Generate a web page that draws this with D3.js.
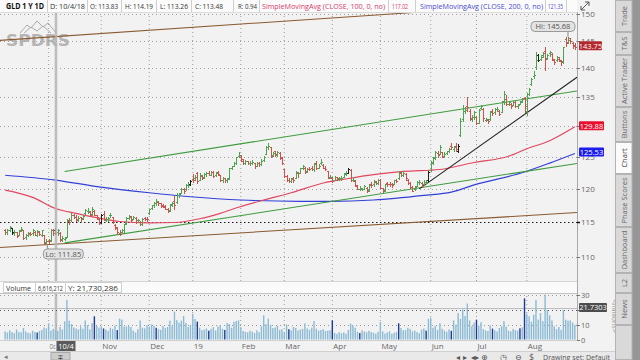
<!DOCTYPE html>
<html><head><meta charset="utf-8">
<script src="https://cdn.jsdelivr.net/npm/d3@7/dist/d3.min.js"></script>
<style>
html,body{margin:0;padding:0;background:#f2f2f2;overflow:hidden}
svg{display:block;font-family:"Open Sans","DejaVu Sans",sans-serif}
</style></head><body>
<svg id="c" width="640" height="360"></svg>
<script>
// ---------- DATA ----------
const symbolTitle = "GLD 1 Y 1D";
const firstDay = "2018-09-04", lastDay = "2019-08-30";
const holidays = ["2018-11-22","2018-12-05","2018-12-25","2019-01-01","2019-01-21","2019-02-18","2019-04-19","2019-05-27","2019-07-04"];

const open = [
113.9,113.5,113.9,114.1,113.4,113.5,113.2,113.9,113.8,112.8,113.2,113.4,113.4,113.6,113.1,113.6,113.2,113.1,112.1,
112.3,112.4,113.8,113.83,113.6,113.4,112.5,112.6,112.9,115.1,115.3,116.0,115.8,115.5,115.7,115.6,116.4,116.6,116.5,116.2,116.7,116.0,115.4,
115.0,116.2,115.3,115.4,116.0,115.7,114.6,114.2,113.4,113.5,113.8,114.9,115.6,115.8,115.5,115.6,115.3,115.0,114.8,115.6,115.5,
116.3,117.1,117.6,117.8,118.0,117.8,117.6,117.3,117.0,116.8,117.7,118.2,118.0,119.0,119.4,120.0,119.9,120.6,120.7,
121.5,121.6,122.4,121.4,122.0,121.9,122.3,122.4,122.2,122.6,122.1,122.6,122.1,121.3,121.6,121.4,121.6,123.2,123.6,124.0,125.2,
125.0,124.4,124.1,124.3,124.0,124.1,124.0,123.6,124.1,123.8,124.5,125.5,126.6,126.5,125.3,125.9,125.3,125.6,124.8,
123.0,122.0,121.3,121.2,121.6,121.7,122.5,122.5,123.2,123.3,122.8,123.1,123.2,123.0,124.0,123.3,124.0,123.7,123.3,122.8,121.8,
121.7,121.4,121.8,121.5,121.7,121.9,122.4,122.5,122.9,121.4,121.2,120.5,120.0,120.0,120.0,120.2,119.8,120.7,120.7,121.1,120.9,
121.4,120.1,119.8,120.9,120.8,120.8,120.8,121.3,121.6,122.5,122.2,122.3,121.4,120.9,120.3,119.9,120.5,121.0,120.9,120.7,121.0,121.3,
122.9,124.1,125.0,125.6,125.5,125.7,125.2,125.6,126.0,126.7,126.3,126.8,126.0,128.5,131.2,132.5,133.4,132.6,131.2,131.6,
131.5,130.6,133.0,132.9,131.0,131.0,131.2,132.6,132.3,132.9,132.6,132.4,134.2,134.5,133.8,133.8,133.6,134.1,133.3,133.8,134.2,134.8,
132.5,135.5,137.1,138.5,140.2,142.4,141.6,142.3,143.1,141.8,142.7,142.6,141.4,141.5,141.7,141.3,141.2,145.2,144.8,145.1,144.6,144.2];
const high = [
114.0,114.0,114.5,114.2,113.8,113.6,113.9,114.3,113.9,113.3,113.5,113.6,114.0,113.7,113.8,113.7,113.9,113.2,112.5,
112.6,114.0,114.0,114.19,114.0,113.5,113.0,112.9,115.4,115.6,116.3,116.2,116.0,115.9,115.8,116.0,117.0,117.1,116.6,117.2,116.8,116.1,115.6,
116.2,116.6,115.7,115.8,116.4,115.8,114.7,114.3,113.8,114.0,114.8,115.7,116.0,115.9,115.9,115.7,115.5,115.1,115.6,115.8,115.7,
117.0,117.6,118.0,118.4,118.1,117.9,117.7,117.5,117.1,117.7,118.0,118.9,119.3,119.4,120.1,120.2,120.7,121.0,121.4,
122.3,122.2,122.6,122.4,122.1,122.4,122.6,122.7,122.8,122.7,122.6,122.7,122.2,121.8,121.7,121.6,123.3,123.6,124.2,125.0,125.8,
125.3,124.6,124.5,124.4,124.3,124.5,124.1,124.2,124.2,124.6,125.2,126.7,127.2,126.6,125.8,126.0,125.9,125.7,124.9,
123.1,122.2,121.6,121.7,121.8,122.8,122.6,123.3,123.7,123.4,123.2,123.4,123.5,124.0,124.3,123.8,124.6,123.8,123.6,122.8,122.2,
121.8,122.0,121.9,121.9,122.0,122.5,122.7,123.3,123.0,121.8,121.3,120.6,120.4,120.2,120.6,120.3,120.7,121.0,121.4,121.2,121.5,
121.5,120.2,120.8,121.1,121.0,120.9,121.4,121.5,122.8,122.6,122.7,122.4,121.5,121.0,120.4,120.4,121.2,121.3,121.0,121.3,121.4,122.7,
124.3,125.0,125.9,126.0,126.9,125.8,125.7,126.0,126.4,127.3,126.7,127.2,127.0,131.3,133.6,133.2,135.0,132.8,131.9,132.5,
131.7,132.8,133.6,133.0,131.4,131.2,132.5,132.9,133.0,133.2,132.7,134.3,135.9,135.3,134.3,133.9,134.3,134.3,133.8,134.3,134.8,135.0,
135.6,136.5,138.3,139.5,142.9,142.6,142.3,142.9,143.8,142.6,143.0,142.7,141.6,142.1,141.9,141.4,143.9,145.6,145.68,145.4,144.8,144.5];
const low = [
113.3,113.3,113.7,113.3,113.2,112.8,113.1,113.7,112.6,112.6,113.0,113.1,113.2,113.1,113.0,113.1,113.0,111.9,111.85,
112.0,112.3,113.2,113.26,113.2,112.3,112.3,112.4,112.8,114.8,115.2,115.6,115.1,115.2,115.2,115.4,116.2,116.4,115.9,116.1,116.0,115.5,114.8,
114.9,115.3,115.1,115.2,115.7,114.9,114.0,113.4,113.1,113.4,113.6,114.8,115.4,115.1,115.4,114.9,115.0,114.6,114.6,115.3,115.2,
116.2,116.9,117.3,117.6,117.6,117.2,117.2,116.9,116.5,116.7,117.4,117.0,117.9,118.8,119.3,119.4,119.8,120.3,120.6,
121.0,121.4,120.9,121.3,121.5,121.7,122.0,122.1,122.1,121.9,122.0,122.1,121.2,121.1,121.1,121.0,121.5,123.0,123.5,123.8,125.0,
124.3,123.9,123.9,123.8,123.7,123.9,123.3,123.5,123.6,123.7,124.4,125.4,126.3,125.0,125.2,125.2,125.1,124.7,123.9,
121.9,121.2,121.0,121.1,121.1,121.6,121.9,122.4,123.1,122.5,122.6,122.9,122.9,122.8,123.1,123.2,123.9,123.2,122.9,121.6,121.6,
121.1,121.3,121.4,121.3,121.4,121.8,122.2,122.4,121.2,121.2,120.5,119.9,119.8,119.8,119.9,119.5,119.7,120.3,120.5,120.7,120.8,
120.1,119.5,119.6,120.5,120.5,120.3,120.7,121.0,121.5,122.0,122.0,121.4,120.7,120.2,119.6,119.8,120.4,120.8,120.3,120.6,120.9,121.2,
122.8,123.9,124.6,125.0,125.4,124.9,125.0,125.4,125.8,126.3,126.0,125.9,125.8,128.4,130.9,132.2,132.6,131.0,130.9,131.2,
130.4,130.5,132.8,130.9,130.8,130.6,131.0,131.9,132.1,132.6,131.8,132.3,133.8,133.6,133.6,133.0,133.5,133.2,133.1,133.7,134.0,132.4,
131.8,135.3,137.0,138.2,139.8,141.2,141.5,142.0,139.6,141.6,142.2,141.4,140.7,141.3,141.2,140.5,140.9,144.0,144.6,144.6,143.6,143.4];
const close = [
113.6,113.9,114.3,113.5,113.6,113.0,113.7,114.0,112.7,113.1,113.3,113.3,113.8,113.2,113.7,113.3,113.8,112.0,112.3,
112.2,113.8,113.4,113.48,113.8,112.4,112.7,112.7,115.3,115.0,116.1,115.8,115.3,115.6,115.4,115.9,116.8,116.7,116.0,117.0,116.1,115.8,114.9,
116.0,115.4,115.5,115.6,116.0,115.0,114.3,113.5,113.3,113.8,114.7,115.6,115.9,115.3,115.8,115.0,115.3,114.8,115.5,115.5,115.4,
116.9,117.5,117.8,118.2,117.8,117.4,117.4,117.0,116.6,117.6,117.9,117.6,119.1,119.2,120.0,119.6,120.6,120.6,121.25,
121.3,121.9,121.2,122.2,121.7,122.3,122.4,122.2,122.6,122.0,122.5,122.3,121.3,121.6,121.3,121.5,123.2,123.5,124.0,124.9,125.3,
124.6,124.0,124.3,124.0,124.0,124.2,123.5,124.0,123.8,124.4,125.0,126.5,126.7,125.2,125.6,125.4,125.8,124.9,124.1,
122.0,121.3,121.2,121.5,121.3,122.6,122.4,123.2,123.5,122.6,123.1,123.0,123.0,123.9,123.2,123.6,124.2,123.3,123.1,121.7,121.9,
121.2,121.9,121.6,121.7,121.7,122.3,122.5,123.0,121.3,121.4,120.6,120.0,120.1,120.0,120.4,119.6,120.6,120.6,121.2,120.9,121.3,
120.2,119.7,120.7,120.8,120.7,120.6,121.3,121.2,122.6,122.2,122.5,121.6,120.9,120.3,119.7,120.3,121.0,121.0,120.5,121.1,121.1,122.6,
124.2,124.8,125.7,125.3,126.6,125.0,125.4,125.9,126.3,126.5,126.6,126.3,126.8,130.9,132.6,132.7,133.2,131.3,131.6,132.3,
130.6,132.7,133.3,131.3,131.2,130.9,132.4,132.2,132.8,132.9,132.1,134.2,135.5,133.8,134.0,133.3,134.0,133.4,133.6,134.1,134.7,133.3,
135.4,136.3,138.1,138.8,141.5,141.4,142.0,142.8,141.6,142.3,142.9,141.7,141.1,141.9,141.5,141.0,143.8,144.6,145.5,144.9,144.0,143.75];
// volume in millions
const volume = [
5.5,4.8,6.2,5.0,4.3,6.8,5.2,4.9,7.8,5.5,4.6,4.2,6.0,5.1,4.7,5.8,6.5,8.2,7.6,
11.0,6.0,7.2,6.6,5.8,8.5,6.9,12.4,27.0,12.8,10.5,8.2,7.5,6.8,8.9,7.3,13.0,9.8,6.9,11.2,15.8,9.2,8.0,
9.0,7.5,6.8,5.9,8.0,7.2,9.5,6.4,14.2,13.6,8.8,8.9,9.1,8.5,6.0,4.8,7.0,13.0,8.0,7.6,9.8,
8.7,10.2,9.4,8.0,7.1,6.5,9.2,7.8,8.5,12.8,9.5,19.0,13.2,11.5,12.8,16.0,11.2,8.5,10.0,
17.5,14.0,12.2,8.0,6.3,6.8,7.5,6.0,7.2,8.4,6.1,8.8,9.8,7.3,6.5,11.2,10.5,8.0,12.0,12.6,13.0,
8.4,5.8,5.2,4.9,6.0,5.3,4.5,6.2,5.0,9.0,16.5,10.5,14.2,10.0,7.8,8.2,9.3,6.5,7.0,
4.8,10.2,7.0,6.3,8.5,7.9,6.0,6.8,7.2,11.0,7.5,6.6,8.1,12.5,7.4,6.1,6.5,7.0,5.8,6.0,6.4,
13.0,4.5,3.8,5.0,4.2,4.8,3.9,6.5,10.8,9.6,8.0,5.2,4.4,6.2,5.5,4.9,6.0,5.1,4.6,3.9,5.3,
12.0,5.5,4.0,4.8,5.6,3.9,4.5,5.2,11.0,7.8,6.3,6.5,8.0,7.2,5.6,6.1,5.0,4.3,6.8,7.5,6.0,14.0,
14.8,8.0,9.2,6.5,11.0,7.3,6.0,5.2,6.8,5.9,13.0,10.0,18.0,14.0,20.5,16.0,24.5,13.0,9.0,11.5,
13.5,9.5,11.8,7.0,6.2,5.8,9.6,7.4,6.3,5.5,7.8,9.0,12.5,8.8,6.0,5.5,7.2,6.4,5.9,7.6,8.3,28.0,
17.5,15.8,12.0,16.8,27.0,13.5,18.0,12.5,30.5,20.0,16.5,13.0,9.0,7.0,8.5,6.6,20.0,13.5,12.8,13.0,11.5,10.0];
const volumeDarkDays = [14,39,43,49,66,84,89,96,124,143,155,172,184,195,206,213,225,227];
const priceDarkDays = [3,22,42,81,150,185,198,233];

// moving averages: [bar index, value]
const sma100 = [[0,119.8],[12,118.7],[22,117.02],[31,116.3],[41,115.6],[50,115.1],[63,114.9],[74,114.95],[85,115.5],[94,116.3],[102,117.2],[113,118.3],[125,119.4],[139,120.9],[150,121.6],[161,122.2],[174,122.7],[190,123.0],[205,124.1],[220,125.1],[228,126.3],[238,127.6],[249,129.88]];
const sma200 = [[0,122.1],[22,121.35],[41,120.3],[63,119.4],[81,118.8],[103,118.3],[129,118.1],[142,118.1],[161,118.3],[183,119.0],[195,119.5],[205,120.6],[227,122.6],[238,124.0],[249,125.53]];

// drawn trend lines: [bar index, price] anchors
const trendBrownTop = [[0,145.1],[249,152.4]];
const trendBrownBottom = [[0,111.4],[249,116.4]];
const trendGreenUpper = [[26,122.7],[249,135.9]];
const trendGreenLower = [[26,112.0],[249,123.9]];
const trendBlack = [[181,120.0],[249,138.1]];

const priceTicks = [110,115,120,125,130,135,140,145,150];
const priceTickLabels = [110,115,120,125,135,140,145,150]; // 130 hidden behind the SMA label
const volumeTicks = [0,10,20,30];
const volumeTickLabels = [0,10,30]; // 20 hidden behind the cursor label
const monthLabels = ["Oct","Nov","Dec","19","Feb","Mar","Apr","May","Jun","Jul","Aug"];
const cursorIndex = 22; // 10/4/18
const cursorLabel = "10/4";
const cursorVolumeY = 21.7303;
const headerTexts = ["GLD 1 Y 1D","D: 10/4/18","O: 113.83","H: 114.19","L: 113.26","C: 113.48","R: 0.94",
  "SimpleMovingAvg (CLOSE, 100, 0, no)","117.02","SimpleMovingAvg (CLOSE, 200, 0, no)","121.35"];
const volumeHeaderTexts = ["Volume","6,616,212","Y: 21,730,286"];
const tabNames = ["Trade","T&S","Active Trader","Buttons","Chart","Phase Scores","Dashboard","L2","News"];
const footerText = "Drawing set: Default";

// ---------- LAYOUT ----------
const svg = d3.select("#c");
const W = 640, H = 360, plotR = 577;
const fmt = d3.utcFormat("%Y-%m-%d");
const dates = d3.utcDay.range(new Date(firstDay+"T00:00Z"), d3.utcDay.offset(new Date(lastDay+"T00:00Z"),1))
  .filter(d => d.getUTCDay()!==0 && d.getUTCDay()!==6 && !holidays.includes(fmt(d)));
if (dates.length !== close.length) console.error("length mismatch", dates.length, close.length);

const x = d3.scaleBand().domain(d3.range(close.length)).range([4,576]);
const cx = i => x(i) + x.bandwidth()/2;
const y = d3.scaleLog().domain([110,150]).range([257,14]);
const vy = d3.scaleLinear().domain([0,33]).range([339.5,291]);

svg.append("rect").attr("width",W).attr("height",H).attr("fill","#f2f2f2");
const defs = svg.append("defs");
defs.append("clipPath").attr("id","pc").append("rect").attr("x",0).attr("y",0).attr("width",plotR).attr("height",281);
defs.append("clipPath").attr("id","vc").append("rect").attr("x",0).attr("y",293).attr("width",plotR).attr("height",47);

const monthStarts = [];
dates.forEach((d,i)=>{ if(i>0 && d.getUTCMonth()!==dates[i-1].getUTCMonth()) monthStarts.push(i); });

// vertical grid
const grid = svg.append("g");
monthStarts.forEach(i=>{
  grid.append("line").attr("x1",cx(i)).attr("x2",cx(i)).attr("y1",12).attr("y2",340)
    .attr("stroke","#9c9c9c").attr("stroke-dasharray","1,3");
});
// horizontal price grid
priceTicks.forEach(t=>{
  grid.append("line").attr("x1",0).attr("x2",plotR).attr("y1",Math.round(y(t))+0.5).attr("y2",Math.round(y(t))+0.5)
    .attr("stroke", t===115 ? "#1a1a1a" : "#a0a0a0").attr("stroke-width", t===115?1.2:1)
    .attr("stroke-dasharray", t===115 ? "1.5,2.5" : "1,3");
});

// SPDRS logo
const logo = svg.append("g").attr("opacity",0.8);
logo.append("path").attr("d","M20,33 L27,25 L31,28 L37,21 L43,27 L48,23 L56,33 M24,33 L31,27 L37,31 L43,26 L51,33")
  .attr("fill","none").attr("stroke","#9a9a9a").attr("stroke-width",1);
logo.append("text").attr("x",6).attr("y",46).attr("font-size",16).attr("font-weight",900)
  .attr("font-family","DejaVu Sans").attr("fill","#a6a6a6").attr("textLength",64).attr("lengthAdjust","spacingAndGlyphs")
  .text("SPDRS");

const pg = svg.append("g").attr("clip-path","url(#pc)");

// moving averages
const maLine = d3.line().x(d=>cx(d[0])).y(d=>y(d[1])).curve(d3.curveMonotoneX);
pg.append("path").attr("d",maLine(sma200)).attr("fill","none").attr("stroke","#3340d8").attr("stroke-width",1.15);
pg.append("path").attr("d",maLine(sma100)).attr("fill","none").attr("stroke","#e2485f").attr("stroke-width",1.15);

// trend lines
function trend(a, color, extendLeft){
  const x1 = cx(a[0][0]), y1 = y(a[0][1]), x2 = cx(a[1][0]), y2 = y(a[1][1]);
  const k = (y2-y1)/(x2-x1);
  const xs = extendLeft ? 0 : x1, xe = plotR;
  pg.append("line").attr("x1",xs).attr("y1",y1+(xs-x1)*k).attr("x2",xe).attr("y2",y1+(xe-x1)*k)
    .attr("stroke",color).attr("stroke-width",1.05);
}
trend(trendBrownTop,"#8a5a30",true);
trend(trendBrownBottom,"#8a5a30",true);
trend(trendGreenUpper,"#3d9b3d",false);
trend(trendGreenLower,"#3d9b3d",false);
trend(trendBlack,"#202020",false);

// OHLC bars
const bars = pg.append("g").attr("stroke-width",1).attr("shape-rendering","crispEdges");
close.forEach((c,i)=>{
  const col = priceDarkDays.includes(i) ? "#1e1e1e" : (c >= open[i] ? "#4fa24f" : "#d0504c");
  const xc = Math.round(cx(i))+0.5;
  bars.append("line").attr("x1",xc).attr("x2",xc).attr("y1",y(high[i])).attr("y2",y(low[i])+1).attr("stroke",col);
  bars.append("line").attr("x1",xc-1.5).attr("x2",xc).attr("y1",Math.round(y(open[i]))+0.5).attr("y2",Math.round(y(open[i]))+0.5).attr("stroke",col);
  bars.append("line").attr("x1",xc).attr("x2",xc+1.5).attr("y1",Math.round(y(c))+0.5).attr("y2",Math.round(y(c))+0.5).attr("stroke",col);
});

// cursor vertical line
svg.append("line").attr("x1",cx(cursorIndex)+0.5).attr("x2",cx(cursorIndex)+0.5).attr("y1",12).attr("y2",340)
  .attr("stroke","#b4b4b4").attr("stroke-width",2.5).attr("opacity",0.85);

// Hi / Lo bubbles
const hiIdx = d3.maxIndex(high), loIdx = d3.minIndex(low);
function bubble(x0, y0, w, h, txt, px, py){
  svg.append("line").attr("x1",px).attr("x2",px).attr("y1",py).attr("y2", y0 > py ? y0 : y0+h).attr("stroke","#888");
  svg.append("rect").attr("x",x0).attr("y",y0).attr("width",w).attr("height",h).attr("rx",4)
    .attr("fill","#e3e3e3").attr("stroke","#9a9a9a");
  svg.append("text").attr("x",x0+w/2).attr("y",y0+h/2+2.7).attr("text-anchor","middle")
    .attr("font-size",7.5).attr("fill","#555").text(txt);
}
bubble(cx(hiIdx)-37, 21.5, 44, 10, "Hi: " + d3.format(".2f")(high[hiIdx]), cx(hiIdx), y(high[hiIdx]));
bubble(cx(loIdx)-3, 249, 40, 10, "Lo: " + d3.format(".2f")(low[loIdx]), cx(loIdx)+1, y(low[loIdx]));

// header band
svg.append("rect").attr("x",0).attr("y",0).attr("width",plotR).attr("height",12).attr("fill","#fbfbfb");
svg.append("line").attr("x1",0).attr("x2",plotR).attr("y1",12.5).attr("y2",12.5).attr("stroke","#dcdcdc");
const hdrPos = [[6,38],[50,35],[90,28],[125,28],[160,28],[195,28],[238,19],[262,123],[392,16],[420,123],[548,15]];
const hdrSeps = [47,87,121,156,191,233,259,388,415,545,566];
const hdrColors = ["#111","#333","#333","#333","#333","#333","#333","#d63a6a","#d63a6a","#4a4ad0","#4a4ad0"];
headerTexts.forEach((t,k)=>{
  svg.append("text").attr("x",hdrPos[k][0]).attr("y",9).attr("font-size",8)
    .attr("font-weight", k===0 ? 700 : 400).attr("fill",hdrColors[k])
    .attr("textLength",hdrPos[k][1]).attr("lengthAdjust","spacingAndGlyphs").text(t);
});
hdrSeps.forEach(s=>svg.append("line").attr("x1",s+0.5).attr("x2",s+0.5).attr("y1",0).attr("y2",12).attr("stroke","#cfcfcf"));
// expand icon
svg.append("path").attr("d","M581,10 L589,2 M585,2 L589,2 L589,6 M581,6 L581,10 L585,10").attr("fill","none").attr("stroke","#555").attr("stroke-width",1);

// right price axis
svg.append("line").attr("x1",plotR+0.5).attr("x2",plotR+0.5).attr("y1",12).attr("y2",340).attr("stroke","#a8a8a8");
priceTicks.forEach(t=>{
  svg.append("line").attr("x1",plotR).attr("x2",plotR+3).attr("y1",Math.round(y(t))+0.5).attr("y2",Math.round(y(t))+0.5)
    .attr("stroke", t===115?"#111":"#777").attr("stroke-width", t===115?1.5:1);
});
priceTickLabels.forEach(t=>{
  svg.append("text").attr("x",581).attr("y",y(t)+3).attr("font-size",8).attr("fill","#666").text(t);
});
function valueBox(yc, color, w, txt){
  svg.append("rect").attr("x",579).attr("y",yc-4.5).attr("width",w).attr("height",9).attr("rx",1).attr("fill",color);
  svg.append("text").attr("x",579+w/2).attr("y",yc+2.8).attr("text-anchor","middle").attr("font-size",7.5)
    .attr("fill","#fff").text(txt);
}
const lastClose = close[close.length-1], last100 = sma100[sma100.length-1][1], last200 = sma200[sma200.length-1][1];
valueBox(y(lastClose)-1.5, "#b22a2e", 23, d3.format(".2f")(lastClose));
valueBox(y(last100)-1, "#e8102e", 25, d3.format(".2f")(last100));
valueBox(y(last200)-1.5, "#1c1cf0", 25, d3.format(".2f")(last200));

// volume header band
svg.append("rect").attr("x",0).attr("y",281).attr("width",plotR).attr("height",12).attr("fill","#fafafa");
svg.append("line").attr("x1",0).attr("x2",plotR).attr("y1",281.5).attr("y2",281.5).attr("stroke","#d4d4d4");
svg.append("line").attr("x1",0).attr("x2",plotR).attr("y1",293.5).attr("y2",293.5).attr("stroke","#c4c4c4");
svg.append("rect").attr("x",3.5).attr("y",282.5).attr("width",118).attr("height",10).attr("fill","#fff").attr("stroke","#cfcfcf");
const vhPos = [[6,25],[38,25],[68,50]];
volumeHeaderTexts.forEach((t,k)=>{
  svg.append("text").attr("x",vhPos[k][0]).attr("y",290.5).attr("font-size",7.5).attr("fill","#333")
    .attr("textLength",vhPos[k][1]).attr("lengthAdjust","spacingAndGlyphs").text(t);
});
[35,65].forEach(s=>svg.append("line").attr("x1",s+0.5).attr("x2",s+0.5).attr("y1",282.5).attr("y2",292.5).attr("stroke","#cfcfcf"));

// volume grid + bars
const vg = svg.append("g").attr("clip-path","url(#vc)");
[10,20,30].forEach(t=>{
  vg.append("line").attr("x1",0).attr("x2",plotR).attr("y1",Math.round(vy(t))+0.5).attr("y2",Math.round(vy(t))+0.5)
    .attr("stroke", t===20?"#555":"#999").attr("stroke-dasharray","1,3");
});
vg.append("line").attr("x1",0).attr("x2",plotR).attr("y1",Math.round(vy(cursorVolumeY))+0.5).attr("y2",Math.round(vy(cursorVolumeY))+0.5)
  .attr("stroke","#bdbdbd");
vg.selectAll("rect.v").data(volume).join("rect").attr("class","v")
  .attr("x",(d,i)=>cx(i)-0.7).attr("width",1.4)
  .attr("y",d=>vy(d)).attr("height",d=>vy(0)-vy(d))
  .attr("fill",(d,i)=>volumeDarkDays.includes(i) ? "#1d3b98" : "#8bbad4");
volumeTicks.forEach(t=>{
  svg.append("line").attr("x1",plotR).attr("x2",plotR+3).attr("y1",Math.round(vy(t))+0.5).attr("y2",Math.round(vy(t))+0.5).attr("stroke","#777");
});
volumeTickLabels.forEach(t=>{
  svg.append("text").attr("x",581).attr("y",vy(t)+3).attr("font-size",7.5).attr("fill","#666").text(t);
});
valueBox(vy(cursorVolumeY), "#4d4d4d", 28, d3.format(".4f")(cursorVolumeY));
svg.append("text").attr("transform","translate(612,316) rotate(90)").attr("text-anchor","middle")
  .attr("font-size",7).attr("fill","#999").text("<millions>");

// x axis
svg.append("line").attr("x1",0).attr("x2",plotR).attr("y1",340.5).attr("y2",340.5).attr("stroke","#cfcfcf");
monthStarts.forEach((i,k)=>{
  if (k === 0) return; // "Oct" drawn below, partly under the cursor label
  svg.append("text").attr("x",cx(i)+1).attr("y",348.5).attr("font-size",8).attr("fill","#666").text(monthLabels[k]);
});
svg.append("text").attr("x",cx(monthStarts[0])+1).attr("y",348.5).attr("font-size",8).attr("fill","#666")
  .attr("textLength",6).attr("lengthAdjust","spacingAndGlyphs").text(monthLabels[0].slice(0,2));
svg.append("rect").attr("x",cx(cursorIndex)+1).attr("y",341).attr("width",19).attr("height",10).attr("fill","#5a5a5a");
svg.append("text").attr("x",cx(cursorIndex)+10.5).attr("y",348.5).attr("text-anchor","middle").attr("font-size",7.5)
  .attr("fill","#fff").text(cursorLabel);

// bottom scroll strip
svg.append("rect").attr("x",0).attr("y",351).attr("width",615).attr("height",9).attr("fill","#e9e9e9");
svg.append("line").attr("x1",0).attr("x2",615).attr("y1",351.5).attr("y2",351.5).attr("stroke","#d0d0d0");
svg.append("text").attr("x",4).attr("y",359).attr("font-size",7).attr("font-family","DejaVu Sans").attr("fill","#777").text("◂");
svg.append("rect").attr("x",51).attr("y",352.5).attr("width",19).attr("height",7.5).attr("fill","#cdcdcd").attr("stroke","#a8a8a8");
svg.append("text").attr("x",60.5).attr("y",359.5).attr("text-anchor","middle").attr("font-size",7).attr("font-family","DejaVu Sans").attr("fill","#444").text("∓");
[["◂",456],["▸",463],["◂▸",471],["⊕",481],["◷",500],["⊖",515],["$",529]].forEach(p=>{
  svg.append("text").attr("x",p[1]).attr("y",359.5).attr("font-size",8).attr("font-family","DejaVu Sans").attr("fill","#555").text(p[0]);
});
svg.append("text").attr("x",543).attr("y",359.5).attr("font-size",7.5).attr("fill","#555")
  .attr("textLength",67).attr("lengthAdjust","spacingAndGlyphs").text(footerText);

// right side tab strip
svg.append("rect").attr("x",632).attr("y",0).attr("width",8).attr("height",H).attr("fill","#969696");
const tabEdges = [0,32,55,107,142,174,227,273,293,325];
tabNames.forEach((n,k)=>{
  const y0 = tabEdges[k], y1 = tabEdges[k+1];
  const active = n==="Chart";
  svg.append("rect").attr("x",615.5).attr("y",y0+0.5).attr("width",16.5).attr("height",y1-y0-1)
    .attr("fill", active ? "#fbfbfb" : "#d9d9d9").attr("stroke","#b3b3b3");
  svg.append("text").attr("transform",`translate(626.5,${(y0+y1)/2}) rotate(-90)`).attr("text-anchor","middle")
    .attr("font-size",7.5).attr("fill", active ? "#333" : "#666").text(n);
});
svg.append("rect").attr("x",615.5).attr("y",325.5).attr("width",16.5).attr("height",34).attr("fill","#d9d9d9").attr("stroke","#b3b3b3");
</script></body></html>
